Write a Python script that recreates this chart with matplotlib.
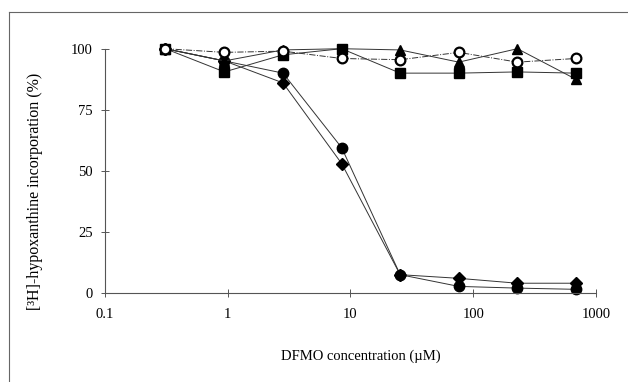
import matplotlib
matplotlib.use('Agg')
import matplotlib.pyplot as plt
from matplotlib.lines import Line2D

# DFMO concentrations (uM), 3-fold dilutions
conc = [0.31, 0.94, 2.82, 8.47, 25.4, 76.2, 229, 686]

# [3H]-hypoxanthine incorporation (%)
filled_circle = [100, 95, 90, 59.5, 7.5, 2.7, 2, 1.5]
filled_diamond = [100, 95, 86, 53, 7.5, 6, 4, 4]
filled_square = [100, 90.5, 97.5, 100, 90, 90, 90.5, 90]
filled_triangle = [100, 95, 99.5, 100, 99.5, 94.5, 100, 87.5]
open_circle = [100, 98.5, 99, 96, 95.5, 98.5, 94.5, 96]

xticks = [0.1, 1, 10, 100, 1000]
xtick_labels = ['0.1', '1', '10', '100', '1000']
yticks = [0, 25, 50, 75, 100]

plt.rcParams['font.family'] = ['Liberation Serif', 'DejaVu Serif']

fig = plt.figure(figsize=(6.28, 3.82), dpi=100)
ax = fig.add_axes([0.1672, 0.233, 0.7818, 0.6395])

line_kw = dict(color='#333333', lw=0.7, clip_on=False)
ax.plot(conc, filled_diamond, marker='D', ms=6, mfc='black', mec='black', **line_kw)
ax.plot(conc, filled_circle, marker='o', ms=7.5, mfc='black', mec='black', **line_kw)
ax.plot(conc, filled_triangle, marker='^', ms=7.5, mfc='black', mec='black', **line_kw)
ax.plot(conc, filled_square, marker='s', ms=7.5, mfc='black', mec='black', **line_kw)
# open circles sit on top of the filled markers
ax.plot(conc, open_circle, marker='o', ms=7, mfc='white', mec='black', mew=1.6,
        linestyle='-.', **line_kw)

ax.set_xscale('log')
ax.set_xlim(0.1, 1000)
ax.set_ylim(0, 100)
ax.set_xticks(xticks)
ax.set_xticklabels(xtick_labels)
ax.minorticks_off()
ax.set_yticks(yticks)

for s in ['top', 'right']:
    ax.spines[s].set_visible(False)
for s in ['left', 'bottom']:
    ax.spines[s].set_color('#555555')
    ax.spines[s].set_linewidth(0.8)

ax.tick_params(axis='x', direction='inout', length=6, width=0.7, color='#555555',
               labelsize=10.5, pad=8)
ax.tick_params(axis='y', direction='inout', length=6, width=0.7, color='#555555',
               labelsize=10.5, pad=6)

ax.set_xlabel('DFMO concentration (µM)', fontsize=10.5)
ax.xaxis.set_label_coords(0.521, -0.23)
ax.set_ylabel('[³H]-hypoxanthine incorporation (%)', fontsize=11.5)
ax.yaxis.set_label_coords(-0.126, 0.416)

# outer frame of the scanned figure
fw, fh = 628.0, 382.0
fig.add_artist(Line2D([9 / fw, 9 / fw], [0, 1 - 12 / fh], transform=fig.transFigure,
                      color='#666666', lw=0.8))
fig.add_artist(Line2D([9 / fw, 1], [1 - 12 / fh, 1 - 12 / fh], transform=fig.transFigure,
                      color='#666666', lw=0.8))

fig.savefig('out.png', dpi=100)
